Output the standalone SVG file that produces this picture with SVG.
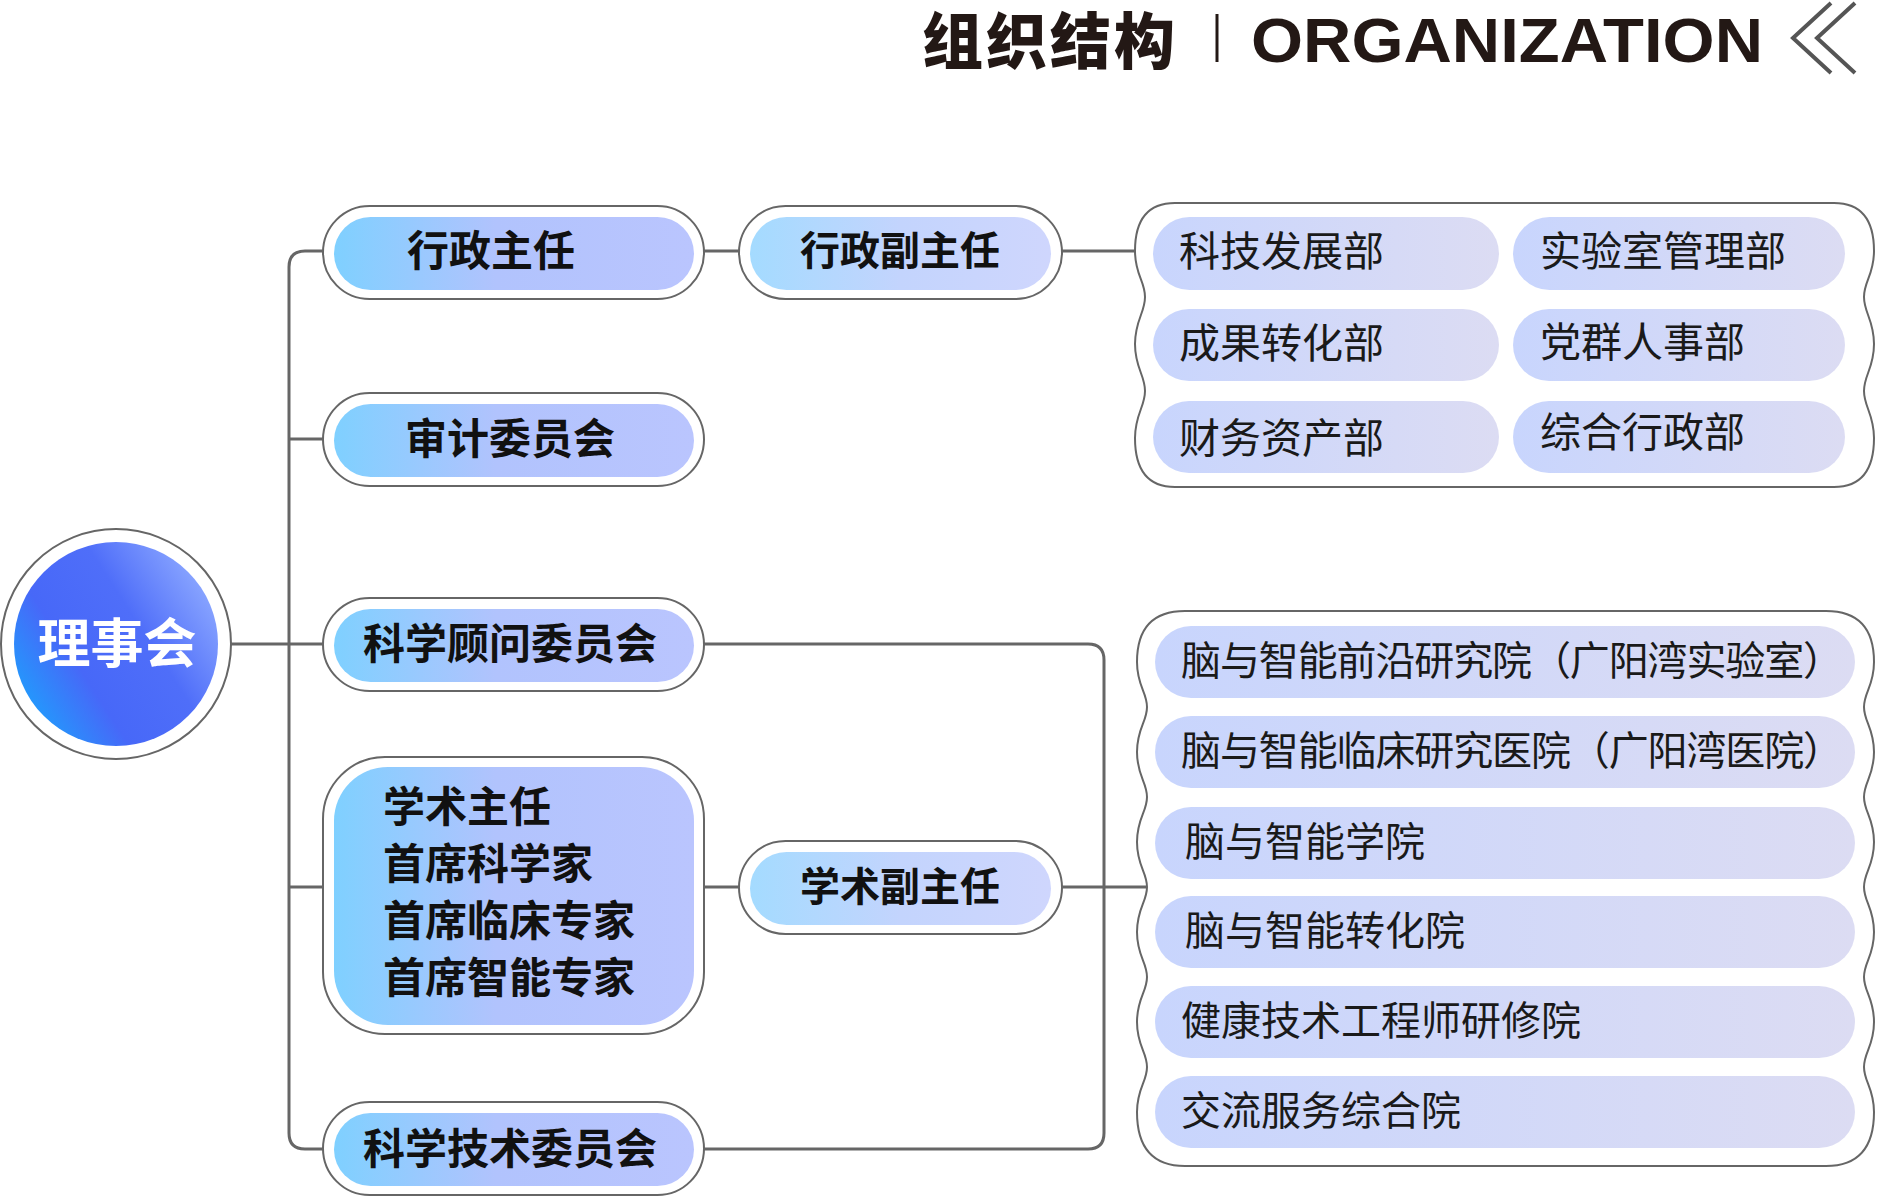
<svg xmlns="http://www.w3.org/2000/svg" width="1877" height="1196" viewBox="0 0 1877 1196">
<defs>
<linearGradient id="gRoot" x1="0" y1="1" x2="1" y2="0.35">
<stop offset="0" stop-color="#0fb4ff"/>
<stop offset="0.4" stop-color="#4768f8"/>
<stop offset="0.7" stop-color="#4f6ef9"/>
<stop offset="1" stop-color="#86a2ff"/>
</linearGradient>
<linearGradient id="gLeft" x1="0" y1="0" x2="1" y2="0">
<stop offset="0" stop-color="#7fd0ff"/>
<stop offset="0.45" stop-color="#b1c3fd"/>
<stop offset="1" stop-color="#bac5fe"/>
</linearGradient>
<linearGradient id="gMid" x1="0" y1="0" x2="1" y2="0">
<stop offset="0" stop-color="#a4dbff"/>
<stop offset="0.5" stop-color="#c3d4fd"/>
<stop offset="1" stop-color="#cfd6fd"/>
</linearGradient>
<linearGradient id="gPale" x1="0" y1="0" x2="1" y2="0">
<stop offset="0" stop-color="#c8d5fd"/>
<stop offset="1" stop-color="#dcdcf3"/>
</linearGradient>
</defs>
<style>
.frame{fill:#fff;stroke:#666;stroke-width:2}
.conn{fill:none;stroke:#666;stroke-width:3}
.bold{font-family:"Noto Sans CJK SC","Noto Sans",sans-serif;font-weight:700;font-size:42px;fill:#111}
.mid{font-size:40px}
.reg{font-family:"Noto Sans CJK SC","Noto Sans",sans-serif;font-weight:400;font-size:40px;fill:#1a1a1a}
.dept{font-size:41px}
</style>

<g id="header">
<text x="922" y="64" font-family="Noto Sans CJK SC, sans-serif" font-weight="900" font-size="61" letter-spacing="3" fill="#231815">组织结构</text>
<line x1="1217" y1="14" x2="1217" y2="62" stroke="#231815" stroke-width="3"/>
<text x="1251" y="62" font-family="Liberation Sans, Arial, sans-serif" font-weight="700" font-size="63" fill="#231815" textLength="512" lengthAdjust="spacingAndGlyphs">ORGANIZATION</text>
<polyline points="1831,3 1793,38 1831,73" fill="none" stroke="#555" stroke-width="4"/>
<polyline points="1855,3 1817,38 1855,73" fill="none" stroke="#555" stroke-width="4"/>
</g>

<g id="connectors">
<path class="conn" d="M231,644 H323"/>
<path class="conn" d="M323,251 H305 Q289,251 289,267 V1133 Q289,1149 305,1149 H323"/>
<path class="conn" d="M289,439 H323"/>
<path class="conn" d="M289,887 H323"/>
<path class="conn" d="M704,251 H739"/>
<path class="conn" d="M1062,251 H1135"/>
<path class="conn" d="M704,887 H739"/>
<path class="conn" d="M1062,887 H1148"/>
<path class="conn" d="M704,644 H1088 Q1104,644 1104,660 V1133 Q1104,1149 1088,1149 H704"/>
</g>

<g id="root">
<circle cx="116" cy="644" r="115" class="frame" stroke-width="2.5"/>
<circle cx="116" cy="644" r="102" fill="url(#gRoot)"/>
<text x="117" y="663" text-anchor="middle" font-family="Noto Sans CJK SC, sans-serif" font-weight="700" font-size="53" fill="#fff">理事会</text>
</g>

<g id="n-xzzr">
<rect x="323" y="206" width="381" height="93" rx="46.5" class="frame"/>
<rect x="334" y="217" width="360" height="73" rx="36.5" fill="url(#gLeft)"/>
<text x="407" y="266" class="bold">行政主任</text>
</g>
<g id="n-sjwyh">
<rect x="323" y="393" width="381" height="93" rx="46.5" class="frame"/>
<rect x="334" y="404" width="360" height="73" rx="36.5" fill="url(#gLeft)"/>
<text x="405" y="454" class="bold">审计委员会</text>
</g>
<g id="n-kxgw">
<rect x="323" y="598" width="381" height="93" rx="46.5" class="frame"/>
<rect x="334" y="609" width="360" height="73" rx="36.5" fill="url(#gLeft)"/>
<text x="363" y="659" class="bold">科学顾问委员会</text>
</g>
<g id="n-xszr">
<rect x="323" y="757" width="381" height="277" rx="62" class="frame"/>
<rect x="334" y="767" width="360" height="258" rx="54" fill="url(#gLeft)"/>
<text x="383" y="822" class="bold">学术主任</text>
<text x="383" y="879" class="bold">首席科学家</text>
<text x="383" y="936" class="bold">首席临床专家</text>
<text x="383" y="993" class="bold">首席智能专家</text>
</g>
<g id="n-kxjs">
<rect x="323" y="1102" width="381" height="93" rx="46.5" class="frame"/>
<rect x="334" y="1113" width="360" height="73" rx="36.5" fill="url(#gLeft)"/>
<text x="363" y="1164" class="bold">科学技术委员会</text>
</g>

<g id="n-xzfzr">
<rect x="739" y="206" width="323" height="93" rx="46.5" class="frame"/>
<rect x="750" y="217" width="301" height="73" rx="36.5" fill="url(#gMid)"/>
<text x="800" y="265" class="bold mid">行政副主任</text>
</g>
<g id="n-xsfzr">
<rect x="739" y="841" width="323" height="93" rx="46.5" class="frame"/>
<rect x="750" y="852" width="301" height="73" rx="36.5" fill="url(#gMid)"/>
<text x="800" y="901" class="bold mid">学术副主任</text>
</g>

<g id="dept-box">
<path class="frame" d="M1175,203 H1834 Q1874,203 1874,251 C1874,275 1864,281 1864,297 C1864,313 1874,320 1874,344 C1874,368 1864,375 1864,391 C1864,407 1874,414 1874,438 Q1874,487 1834,487 H1175 Q1135,487 1135,438 C1135,414 1145,407 1145,391 C1145,375 1135,368 1135,344 C1135,320 1145,313 1145,297 C1145,281 1135,275 1135,251 Q1135,203 1175,203 Z"/>
<g id="d1"><rect x="1153" y="217" width="346" height="73" rx="36.5" fill="url(#gPale)"/><text x="1179" y="266" class="reg dept">科技发展部</text></g>
<g id="d2"><rect x="1513" y="217" width="332" height="73" rx="36.5" fill="url(#gPale)"/><text x="1540" y="266" class="reg dept">实验室管理部</text></g>
<g id="d3"><rect x="1153" y="309" width="346" height="72" rx="36" fill="url(#gPale)"/><text x="1179" y="358" class="reg dept">成果转化部</text></g>
<g id="d4"><rect x="1513" y="309" width="332" height="72" rx="36" fill="url(#gPale)"/><text x="1540" y="357" class="reg dept">党群人事部</text></g>
<g id="d5"><rect x="1153" y="401" width="346" height="72" rx="36" fill="url(#gPale)"/><text x="1179" y="453" class="reg dept">财务资产部</text></g>
<g id="d6"><rect x="1513" y="401" width="332" height="72" rx="36" fill="url(#gPale)"/><text x="1540" y="447" class="reg dept">综合行政部</text></g>
</g>

<g id="inst-box">
<path class="frame" d="M1185,611 H1826 Q1874,611 1874,662 C1874,686 1864,692 1864,707 C1864,722 1874,728 1874,752 C1874,776 1864,782 1864,797 C1864,812 1874,818 1874,842 C1874,866 1864,872 1864,887 C1864,902 1874,908 1874,932 C1874,956 1864,962 1864,977 C1864,992 1874,998 1874,1022 C1874,1046 1864,1052 1864,1067 C1864,1082 1874,1088 1874,1112 Q1874,1166 1826,1166 H1185 Q1137,1166 1137,1112 C1137,1088 1147,1082 1147,1067 C1147,1052 1137,1046 1137,1022 C1137,998 1147,992 1147,977 C1147,962 1137,956 1137,932 C1137,908 1147,902 1147,887 C1147,872 1137,866 1137,842 C1137,818 1147,812 1147,797 C1147,782 1137,776 1137,752 C1137,728 1147,722 1147,707 C1147,692 1137,686 1137,662 Q1137,611 1185,611 Z"/>
<g id="i1"><rect x="1155" y="626" width="700" height="72" rx="36" fill="url(#gPale)"/><text x="1181" y="675" class="reg" textLength="662" lengthAdjust="spacing">脑与智能前沿研究院（广阳湾实验室）</text></g>
<g id="i2"><rect x="1155" y="716" width="700" height="72" rx="36" fill="url(#gPale)"/><text x="1181" y="765" class="reg" textLength="662" lengthAdjust="spacing">脑与智能临床研究医院（广阳湾医院）</text></g>
<g id="i3"><rect x="1155" y="807" width="700" height="72" rx="36" fill="url(#gPale)"/><text x="1185" y="856" class="reg">脑与智能学院</text></g>
<g id="i4"><rect x="1155" y="896" width="700" height="72" rx="36" fill="url(#gPale)"/><text x="1185" y="945" class="reg">脑与智能转化院</text></g>
<g id="i5"><rect x="1155" y="986" width="700" height="72" rx="36" fill="url(#gPale)"/><text x="1181" y="1035" class="reg">健康技术工程师研修院</text></g>
<g id="i6"><rect x="1155" y="1076" width="700" height="72" rx="36" fill="url(#gPale)"/><text x="1181" y="1125" class="reg">交流服务综合院</text></g>
</g>
</svg>
